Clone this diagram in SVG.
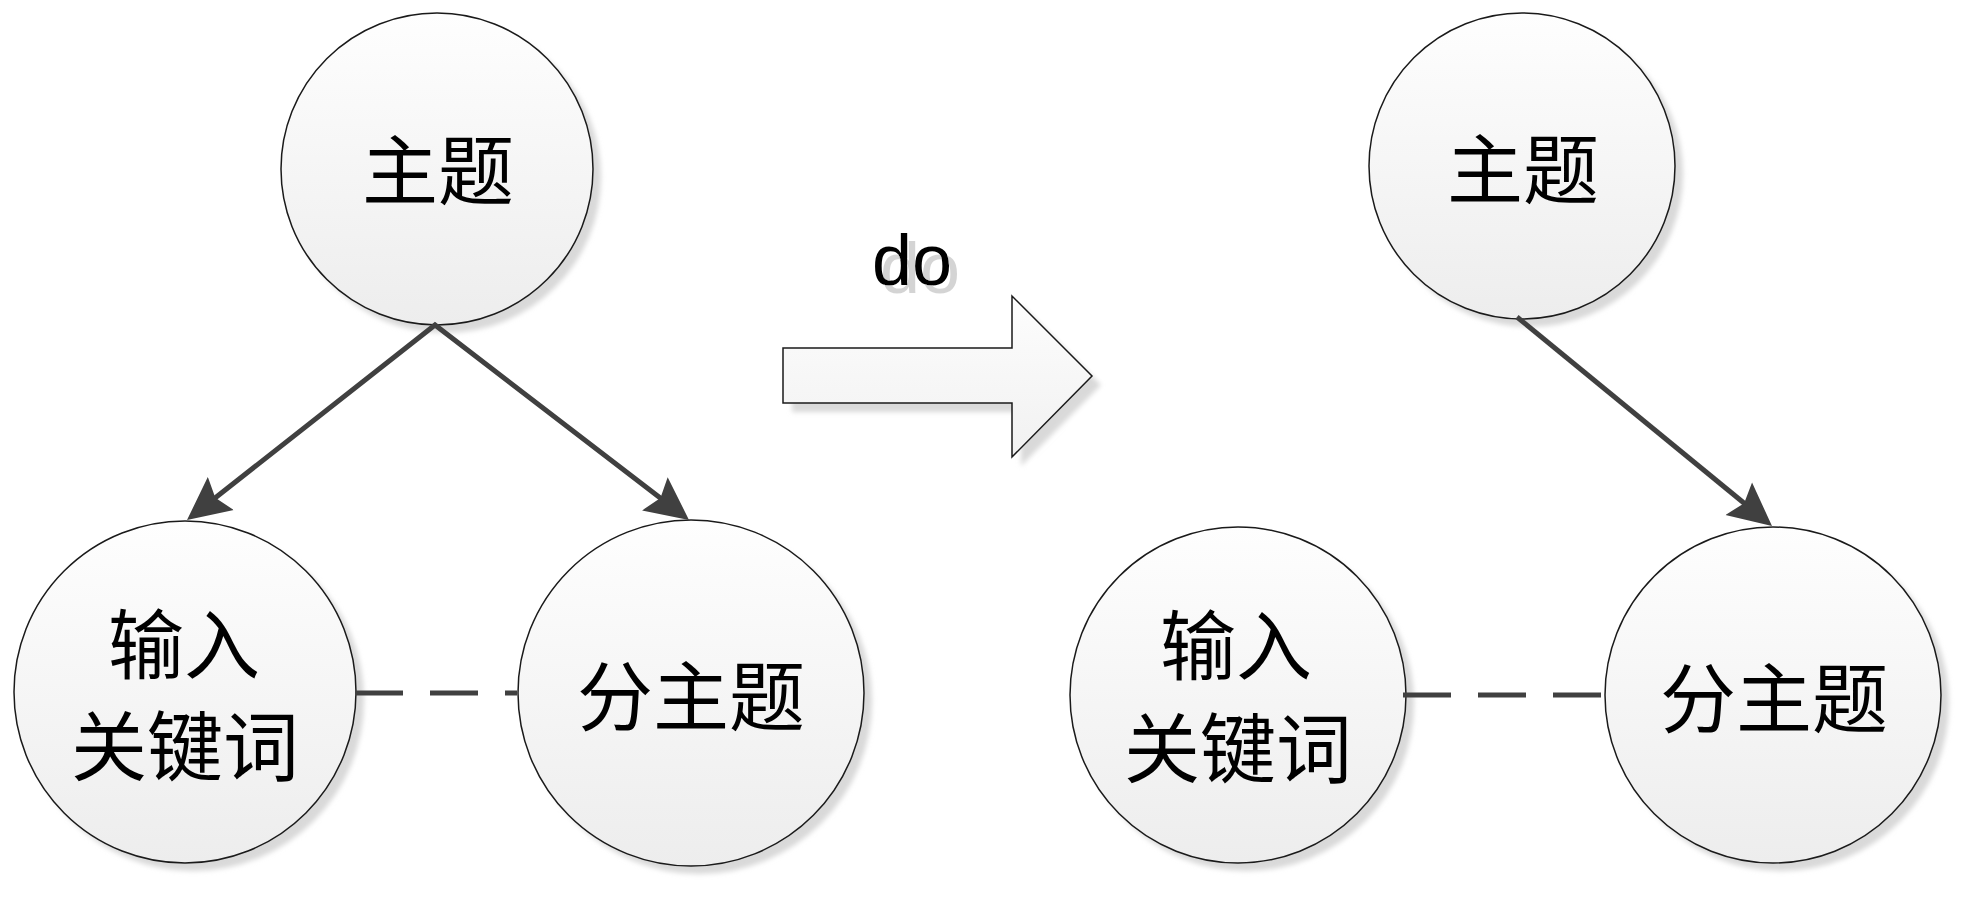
<svg xmlns="http://www.w3.org/2000/svg" width="1969" height="899" viewBox="0 0 1969 899">
<style>
.node{fill:url(#g);stroke:#1a1a1a;stroke-width:1.5}
.shadow{fill:#d9d9d9;filter:url(#blur)}
.lbl{font-family:"Noto Sans CJK SC","Noto Sans CJK JP",sans-serif;font-size:76px;fill:#000;text-anchor:middle;dominant-baseline:central}
.conn{fill:none;stroke:#404040;stroke-width:5}
.dash{fill:none;stroke:#404040;stroke-width:5;stroke-dasharray:48 27}
</style>
<defs>
<linearGradient id="g" x1="0" y1="0" x2="0" y2="1">
<stop offset="0" stop-color="#fefefe"/>
<stop offset="1" stop-color="#ededed"/>
</linearGradient>
<linearGradient id="ga" x1="0" y1="0" x2="0" y2="1">
<stop offset="0" stop-color="#fdfdfd"/>
<stop offset="1" stop-color="#f1f1f1"/>
</linearGradient>
<filter id="blur" x="-10%" y="-10%" width="120%" height="120%">
<feGaussianBlur stdDeviation="2.5"/>
</filter>
<filter id="tshadow" x="-20%" y="-30%" width="150%" height="170%">
<feOffset in="SourceAlpha" dx="8" dy="8" result="off"/>
<feFlood flood-color="#d4d4d4"/>
<feComposite in2="off" operator="in" result="sh"/>
<feMerge><feMergeNode in="sh"/><feMergeNode in="SourceGraphic"/></feMerge>
</filter>
<marker id="ah" viewBox="0 -22 44 44" refX="13" refY="0" markerWidth="44" markerHeight="44" markerUnits="userSpaceOnUse" orient="auto-start-reverse">
<path d="M43,0 L0,-21 L7,0 L0,21 Z" fill="#404040"/>
</marker>
</defs>
<rect width="1969" height="899" fill="#fff"/>

<g id="shadows">
<circle class="shadow" cx="445" cy="177" r="156"/>
<circle class="shadow" cx="193" cy="700" r="171"/>
<circle class="shadow" cx="699" cy="701" r="173"/>
<circle class="shadow" cx="1530" cy="174" r="153"/>
<circle class="shadow" cx="1246" cy="703" r="168"/>
<circle class="shadow" cx="1781" cy="703" r="168"/>
<polygon class="shadow" points="792,357 1021,357 1021,305 1101,385 1021,466 1021,412 792,412"/>
</g>

<g id="node-topic-left">
<circle class="node" cx="437" cy="169" r="156"/>
<text class="lbl" x="438" y="166">主题</text>
</g>
<g id="node-input-left">
<circle class="node" cx="185" cy="692" r="171"/>
<text class="lbl" x="184" y="640">输入</text>
<text class="lbl" x="185" y="742">关键词</text>
</g>
<g id="node-subtopic-left">
<circle class="node" cx="691" cy="693" r="173"/>
<text class="lbl" x="691" y="692">分主题</text>
</g>

<g id="node-do-arrow">
<polygon points="783,348 1012,348 1012,296 1092,376 1012,457 1012,403 783,403" fill="url(#ga)" stroke="#1a1a1a" stroke-width="1.5"/>
<text x="912" y="285" font-family="Liberation Sans,Arial,sans-serif" font-size="72" fill="#000" text-anchor="middle" filter="url(#tshadow)">do</text>
</g>

<g id="node-topic-right">
<circle class="node" cx="1522" cy="166" r="153"/>
<text class="lbl" x="1523" y="165">主题</text>
</g>
<g id="node-input-right">
<circle class="node" cx="1238" cy="695" r="168"/>
<text class="lbl" x="1236" y="641">输入</text>
<text class="lbl" x="1238" y="744">关键词</text>
</g>
<g id="node-subtopic-right">
<circle class="node" cx="1773" cy="695" r="168"/>
<text class="lbl" x="1774" y="694">分主题</text>
</g>

<g id="connectors">
<path class="conn" d="M210.6,501.5 L435,325 L665.2,501.7" marker-start="url(#ah)" marker-end="url(#ah)"/>
<line class="dash" x1="355" y1="693" x2="517" y2="693"/>
<line class="conn" x1="1517" y1="317" x2="1748.8" y2="507" marker-end="url(#ah)"/>
<line class="dash" x1="1403" y1="695" x2="1605" y2="695"/>
</g>
</svg>
